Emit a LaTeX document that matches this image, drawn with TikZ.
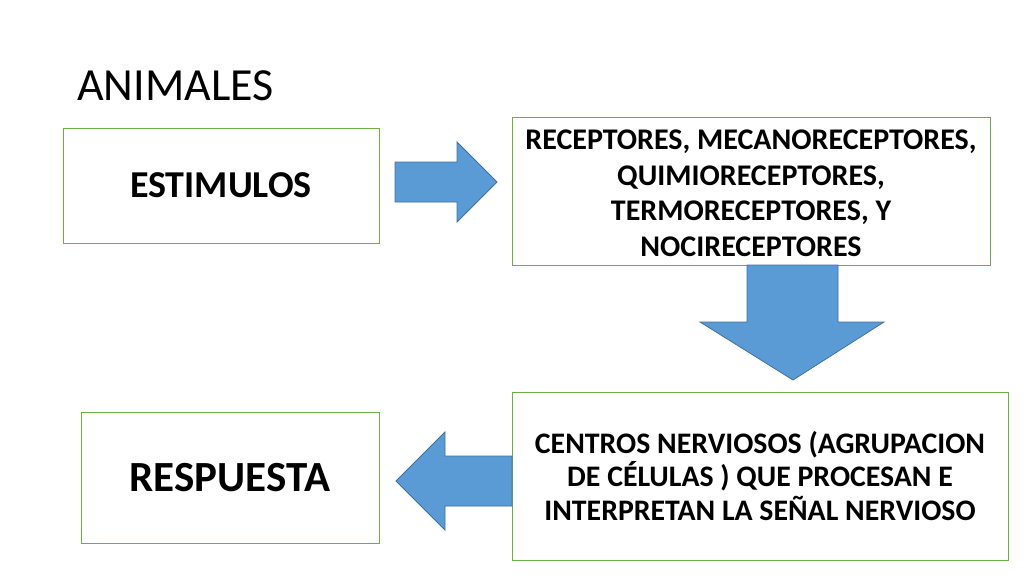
\documentclass[tikz,border=0pt]{standalone}
\usepackage{fontspec}
\setmainfont{Carlito}
\usetikzlibrary{positioning}
\definecolor{boxgreen}{HTML}{70AD47}
\definecolor{arrfill}{HTML}{5B9BD5}
\definecolor{arrline}{HTML}{41719C}
\tikzset{
  greenbox/.style={draw=boxgreen, line width=1pt, fill=white, align=center, inner sep=0pt, font=\bfseries},
  blockarrow/.style={fill=arrfill, draw=arrline, line width=0.8pt, line join=miter},
}
\begin{document}
\begin{tikzpicture}[x=1pt,y=-1pt]
\useasboundingbox (0,0) rectangle (1024,576);
\node[anchor=base west, inner sep=0pt, font=\fontsize{46}{54}\selectfont] (title) at (77,100) {ANIMALES};
\node[greenbox, minimum width=316pt, minimum height=115pt, font=\fontsize{38}{45}\selectfont\bfseries] (est) at (221,185.5) {ESTIMULOS};
\node[greenbox, minimum width=478pt, minimum height=148pt, font=\fontsize{30}{35.5}\selectfont\bfseries] (rec) at (751,191) {};
\node[align=center, inner sep=0pt, font=\fontsize{30}{35.5}\selectfont\bfseries] (rectext) at (751,193.5) {RECEPTORES, MECANORECEPTORES,\\QUIMIORECEPTORES,\\TERMORECEPTORES, Y\\NOCIRECEPTORES};
\node[greenbox, minimum width=496pt, minimum height=168pt, font=\fontsize{29.8}{33.5}\selectfont\bfseries] (cen) at (760,476) {CENTROS NERVIOSOS (AGRUPACION\\DE CÉLULAS ) QUE PROCESAN E\\INTERPRETAN LA SEÑAL NERVIOSO};
\node[greenbox, minimum width=298pt, minimum height=131pt, font=\fontsize{43}{51}\selectfont\bfseries] (res) at (230,478) {RESPUESTA};
% arrows
\draw[blockarrow] (395,162) -- (457,162) -- (457,142) -- (497,182) -- (457,222) -- (457,202) -- (395,202) -- cycle;
\draw[blockarrow] (747,265) -- (838,265) -- (838,322) -- (884,322) -- (793,380) -- (700,322) -- (747,322) -- cycle;
\draw[blockarrow] (512,456) -- (445,456) -- (445,432) -- (396,481) -- (445,530) -- (445,506) -- (512,506) -- cycle;
\end{tikzpicture}
\end{document}
